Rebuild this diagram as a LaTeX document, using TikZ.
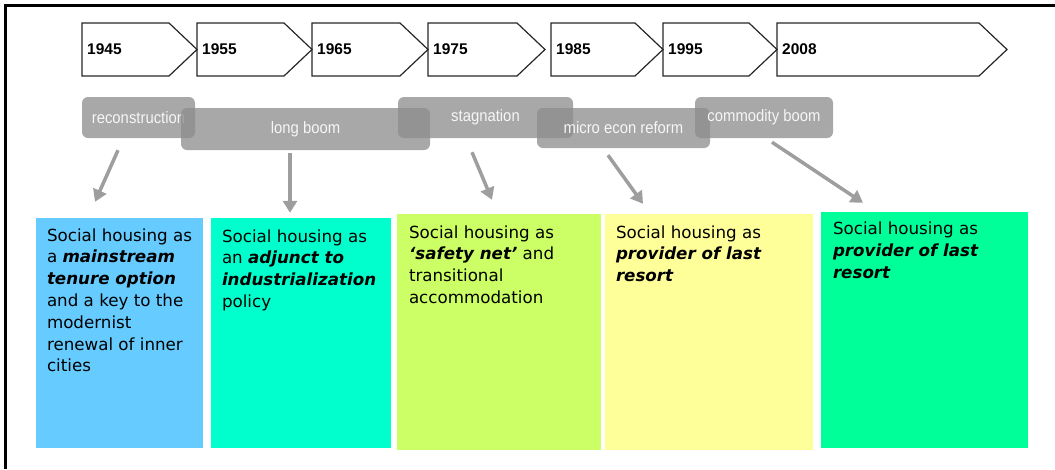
\documentclass[tikz,border=0pt]{standalone}
\usepackage{fontspec}
\setmainfont{DejaVu Sans}
\newfontfamily\yearfont{Liberation Sans}
\newfontfamily\barfont[FakeStretch=0.9]{Liberation Sans}
\usetikzlibrary{arrows.meta}
\usetikzlibrary{calc,positioning}

\definecolor{barfill}{RGB}{140,140,140}
\definecolor{bartext}{RGB}{246,246,246}
\definecolor{arrowgray}{RGB}{158,158,158}
\definecolor{boxblue}{RGB}{102,204,255}
\definecolor{boxcyan}{RGB}{0,255,204}
\definecolor{boxlime}{RGB}{204,255,102}
\definecolor{boxyellow}{RGB}{255,255,153}
\definecolor{boxgreen}{RGB}{0,255,153}

\newcommand{\keyterm}[1]{\textbf{\textit{#1}}}

\begin{document}
\begin{tikzpicture}[x=1pt,y=-1pt,
    yearlbl/.style={inner sep=0pt,font=\yearfont\bfseries\fontsize{15.5}{17}\selectfont},
    era/.style={fill=barfill,fill opacity=0.76,text opacity=1,text=bartext,
      rounded corners=6pt,inner sep=0pt,font=\barfont\fontsize{16.5}{18}\selectfont},
    policybox/.style={inner sep=0pt},
    policytext/.style={inner sep=0pt,anchor=north west,align=left,
      font=\fontsize{16.7}{21.8}\selectfont},
    arr/.style={arrowgray,line width=3.5pt,-{Triangle[width=14pt,length=12pt]}}]
    \useasboundingbox (0,0) rectangle (1055,469);
    % frame
    \draw[line width=2.7pt] (5.3,469) -- (5.3,5.3) -- (1055,5.3);

    % timeline
    \foreach \l/\t/\yr in {82/197/1945,197/312/1955,312/428/1965,428/545/1975,
                           551/663/1985,663/777/1995,777/1007/2008}{
        \draw[line width=1.2pt,black!85] (\l,23) -- (\t-28,23) -- (\t,49.5) -- (\t-28,76) -- (\l,76) -- cycle;
        \node[yearlbl,anchor=west] (y\yr) at (\l+5,49.5) {\yr};
    }

    % phases
    \node[era,minimum width=113pt,minimum height=41pt] (recon) at (138.5,117.5) {reconstruction};
    \node[era,minimum width=249pt,minimum height=42pt] (longboom) at (305.5,129) {long boom};
    \node[era,minimum width=175pt,minimum height=41pt] (stagnation) at (485.5,117.5) {stagnation};
    \node[era,minimum width=173pt,minimum height=40pt] (microreform) at (623.5,128) {micro econ reform};
    \node[era,minimum width=138pt,minimum height=41pt] (commodity) at (764,117.5) {commodity boom};

    % policy boxes
    \node[policybox,fill=boxblue,minimum width=167pt,minimum height=230pt] (box1) at (119.5,333) {};
    \node[policybox,fill=boxcyan,minimum width=180pt,minimum height=230pt] (box2) at (301,333) {};
    \node[policybox,fill=boxlime,minimum width=204pt,minimum height=236pt] (box3) at (499,332) {};
    \node[policybox,fill=boxyellow,minimum width=208pt,minimum height=236pt] (box4) at (709,332) {};
    \node[policybox,fill=boxgreen,minimum width=207pt,minimum height=236pt] (box5) at (924.5,330) {};

    \node[policytext] (text1) at ([shift={(11,10.5)}]box1.north west)
        {Social housing as\\a \keyterm{mainstream}\\\keyterm{tenure option}\\and a key to the\\modernist\\renewal of inner\\cities};
    \node[policytext] (text2) at ([shift={(11,11.5)}]box2.north west)
        {Social housing as\\an \keyterm{adjunct to}\\\keyterm{industrialization}\\policy};
    \node[policytext] (text3) at ([shift={(12,11.5)}]box3.north west)
        {Social housing as\\\keyterm{‘safety net’} and\\transitional\\accommodation};
    \node[policytext] (text4) at ([shift={(11,11.5)}]box4.north west)
        {Social housing as\\\keyterm{provider of last}\\\keyterm{resort}};
    \node[policytext] (text5) at ([shift={(12,10)}]box5.north west)
        {Social housing as\\\keyterm{provider of last}\\\keyterm{resort}};

    % links
    \draw[arr] ($(recon.south)+(-20.5,12)$) -- ($(box1.north)+(-24.5,-16)$);
    \draw[arr] ($(longboom.south)+(-15.5,3)$) -- ($(box2.north)+(-11,-5)$);
    \draw[arr] ($(stagnation.south)+(-13.5,14)$) -- ($(box3.north)+(-7,-14)$);
    \draw[arr] ($(microreform.south)+(-15.5,7)$) -- ($(box4.north)+(-66,-10)$);
    \draw[arr] ($(commodity.south)+(8,4)$) -- ($(box5.north)+(-61.5,-9)$);
\end{tikzpicture}
\end{document}
